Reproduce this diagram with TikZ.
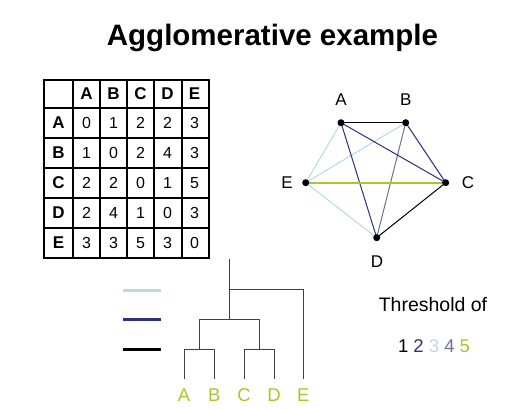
\documentclass[tikz,border=0pt]{standalone}
\usepackage{fontspec}
\setmainfont{Liberation Sans}
\usetikzlibrary{backgrounds}
\definecolor{cone}{HTML}{000000}
\definecolor{ctwo}{HTML}{2E2E80}
\definecolor{cthree}{HTML}{B4DCE0}
\definecolor{cfour}{HTML}{70708A}
\definecolor{cfive}{HTML}{A6C828}
\definecolor{cnum}{HTML}{C4D4E4}
\definecolor{dendro}{HTML}{404040}
\tikzset{
  cell/.style={font=\fontsize{16}{16}\selectfont, inner sep=0pt, anchor=center},
  hcell/.style={cell, font=\fontsize{17}{17}\selectfont\bfseries},
  vlabel/.style={font=\fontsize{17}{17}\selectfont, inner sep=0pt, anchor=center},
  dot/.style={circle, fill=black, inner sep=0pt, minimum size=7pt},
  edge/.style={line width=1pt},
  dline/.style={draw=dendro, line width=1pt},
  legend/.style={line width=3pt},
  leaf/.style={font=\fontsize{18.5}{18.5}\selectfont, text=cfive, inner sep=0pt, anchor=base},
}
\begin{document}
\begin{tikzpicture}[x=1pt,y=-1pt]
\useasboundingbox (0,0) rectangle (520,409);
% title
\node[font=\fontsize{29.5}{29.5}\selectfont\bfseries, inner sep=0pt, anchor=base] (title) at (272.5,46) {Agglomerative example};

% table grid
\foreach \x in {73,100,127,154,182} \draw[line width=1.3pt] (\x,80) -- (\x,258);
\foreach \y in {108,138,168,198,228} \draw[line width=1.3pt] (44,\y) -- (209,\y);
\draw[line width=2pt] (44,80) rectangle (209,258);
% headers
\foreach \l [count=\i] in {A,B,C,D,E} {
  \node[hcell] (h\l) at ({73+27*(\i-1)+13.5},94) {\l};
  \node[hcell] (r\l) at (58.5,{108+30*(\i-1)+15}) {\l};
}
\foreach \row [count=\r] in {{0,1,2,2,3},{1,0,2,4,3},{2,2,0,1,5},{2,4,1,0,3},{3,3,5,3,0}} {
  \foreach \v [count=\c] in \row {
    \node[cell] (c\r\c) at ({73+27*(\c-1)+13.5},{108+30*(\r-1)+15}) {\v};
  }
}

% graph
\node[dot] (A) at (341,122.7) {};
\node[dot] (B) at (405.7,122.7) {};
\node[dot] (C) at (445.7,182.7) {};
\node[dot] (D) at (376.7,237.7) {};
\node[dot] (E) at (305.7,182.7) {};
\node[vlabel] (lA) at (341,100) {A};
\node[vlabel] (lB) at (405.7,100) {B};
\node[vlabel] (lC) at (468,182.7) {C};
\node[vlabel] (lD) at (377,262) {D};
\node[vlabel] (lE) at (287,182.7) {E};
\begin{scope}[on background layer]
\draw[edge, cthree] (A.center) -- (E.center);
\draw[edge, cthree] (B.center) -- (E.center);
\draw[edge, cthree] (D.center) -- (E.center);
\draw[edge, cfour] (B.center) -- (D.center);
\draw[edge, ctwo] (A.center) -- (C.center);
\draw[edge, ctwo] (A.center) -- (D.center);
\draw[edge, ctwo] (B.center) -- (C.center);
\draw[edge, cone] (A.center) -- (B.center);
\draw[edge, cone] (C.center) -- (D.center);
\draw[line width=2pt, cfive] (E.center) -- (C.center);
\end{scope}

% legend lines
\coordinate (g1a) at (123,290); \coordinate (g1b) at (161,290);
\coordinate (g2a) at (123,319.3); \coordinate (g2b) at (161,319.3);
\coordinate (g3a) at (123,349.3); \coordinate (g3b) at (161,349.3);
\draw[legend, cthree] (g1a) -- (g1b);
\draw[legend, ctwo] (g2a) -- (g2b);
\draw[legend, cone] (g3a) -- (g3b);

% dendrogram
\coordinate (pA) at (184,379.3);
\coordinate (pB) at (214.3,379.3);
\coordinate (pC) at (244,379.3);
\coordinate (pD) at (274,379.3);
\coordinate (pE) at (303.3,379.3);
\coordinate (jAB) at (199.2,349.3);
\coordinate (jCD) at (259,349.3);
\coordinate (jABCD) at (229,319.3);
\coordinate (jall) at (229,289.3);
\coordinate (top) at (229,259.3);
\draw[dline] (pA) |- (jAB) -| (pB);
\draw[dline] (pC) |- (jCD) -| (pD);
\draw[dline] (jAB) |- (jABCD) -| (jCD);
\draw[dline] (jABCD) |- (jall) -| (pE);
\draw[dline] (jall) -- (top);
\node[leaf] (tA) at (184,401.7) {A};
\node[leaf] (tB) at (214.3,401.7) {B};
\node[leaf] (tC) at (244,401.7) {C};
\node[leaf] (tD) at (274,401.7) {D};
\node[leaf] (tE) at (303.3,401.7) {E};

% threshold
\node[font=\fontsize{19.5}{19.5}\selectfont, inner sep=0pt, anchor=base] (thr) at (433,311.7) {Threshold of};
\node[font=\fontsize{18.5}{18.5}\selectfont, inner sep=0pt, anchor=base] (nums) at (434,352.7)
  {\textcolor{cone}{1} \textcolor{ctwo}{2} \textcolor{cnum}{3} \textcolor{cfour}{4} \textcolor{cfive}{5}};
\end{tikzpicture}
\end{document}
